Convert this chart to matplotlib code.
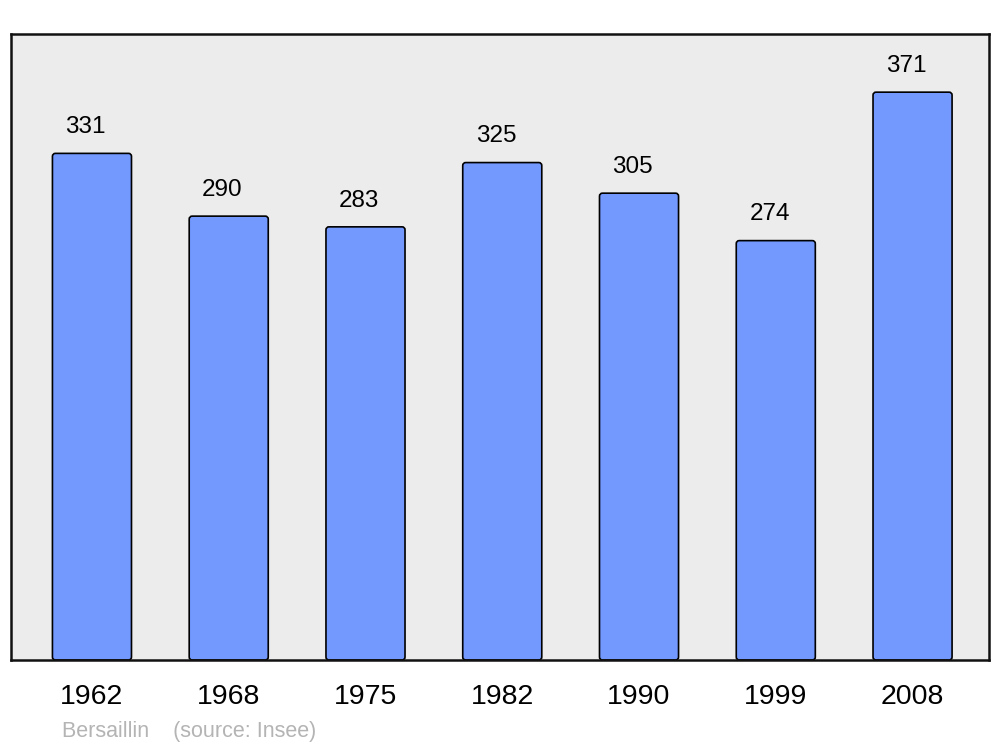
import matplotlib
matplotlib.use("Agg")
import matplotlib.pyplot as plt
from matplotlib.patches import FancyBboxPatch

years = ["1962", "1968", "1975", "1982", "1990", "1999", "2008"]
population = [331, 290, 283, 325, 305, 274, 371]
source_text = "Bersaillin    (source: Insee)"

plt.rcParams['font.family'] = ['Liberation Sans', 'DejaVu Sans']

fig = plt.figure(figsize=(10, 7.47), dpi=100)
ax = fig.add_axes([0.011, 87 / 747, 0.978, 626 / 747])
ax.set_facecolor('#ececec')

x = list(range(len(years)))
ax.set_xlim(-0.592, 6.559)
ax.set_ylim(0, 409)
bars = ax.bar(x, population, width=0.578, color='#7399ff', edgecolor='black', linewidth=1.2, zorder=2)

# round the bar corners slightly
fig.canvas.draw()
p0 = ax.transData.transform((0, 0))
p1 = ax.transData.transform((1, 1))
xpp = 1.0 / (p1[0] - p0[0])
ypp = 1.0 / (p1[1] - p0[1])
for r in bars.patches:
    r.set_visible(False)
    fb = FancyBboxPatch((r.get_x(), r.get_y()), r.get_width(), r.get_height(),
                        boxstyle=f"round,pad=0,rounding_size={3 * xpp}",
                        mutation_aspect=ypp / xpp,
                        facecolor='#7399ff', edgecolor='black', linewidth=1.2, zorder=2)
    ax.add_patch(fb)

for xi, v in zip(x, population):
    ax.annotate(str(v), (xi, v), xytext=(-4.5, 14.5), textcoords='offset points',
                ha='center', va='baseline', fontsize=17.5, color='black')

ax.set_xticks(x)
ax.set_xticklabels(years, fontsize=20.5)
ax.tick_params(axis='x', length=0, pad=17)
ax.set_yticks([])
for s in ax.spines.values():
    s.set_linewidth(1.8)
    s.set_color('#111111')

fig.text(62, 15, source_text, transform=None, fontsize=15.5, color='#b4b4b4', va='center')
fig.savefig('out.png', dpi=100, facecolor='white')
